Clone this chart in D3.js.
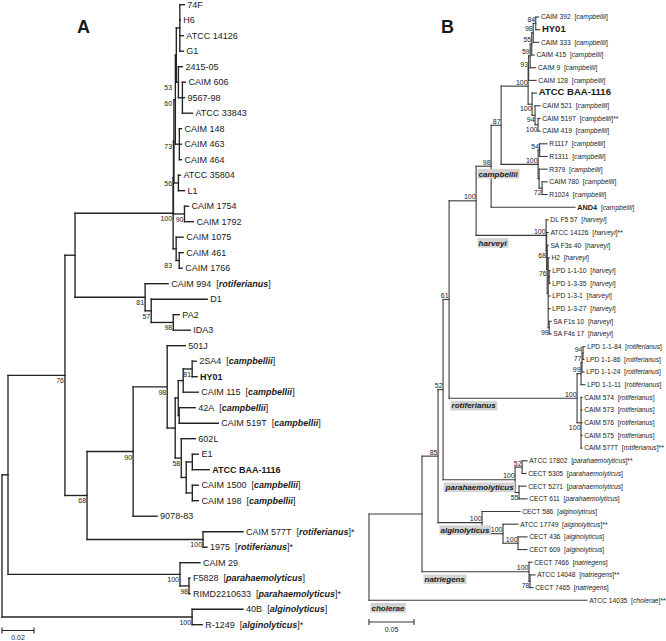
<!DOCTYPE html>
<html><head><meta charset="utf-8">
<script src="https://cdn.jsdelivr.net/npm/d3@7"></script>
<style>
body{margin:0;background:#fff}
svg{display:block}
text{font-family:"Liberation Sans",Arial,Helvetica,sans-serif;fill:#1a1a1a}
</style>
</head><body>
<svg id="c" width="666" height="641"></svg>
<script>
// ---------------- DATA ----------------
// Panel A tree (Newick, branch lengths in substitutions/site, internal labels = bootstrap)
const treeA = "((((((((((74F:0.0028,H6:0.0003,'ATCC 14126':0.0022,G1:0.0022):0.0022," +
  "('2415-05':0.0025,('CAIM 606':0.0019,'9567-98':0.0013,'ATCC 33843':0.0063)60:0.0025)53:0.0013):0.0006," +
  "('CAIM 148':0.0013,'CAIM 463':0.0013,'CAIM 464':0.0013):0.0025):0.0009," +
  "('ATCC 35804':0.0013,L1:0.0038):0.0028)73:0.0003," +
  "('CAIM 1754':0.0025,'CAIM 1792':0.0056)90:0.0069)56:0.0002," +
  "('CAIM 1075':0.0044,('CAIM 461':0.0025,'CAIM 1766':0.0019)83:0.0019):0.0019)100:0.0613," +
  "('CAIM 994':0.0144,(D1:0.035,(PA2:0.0038,IDA3:0.0106)98:0.0138)57:0.0038)81:0.0438):0.0063," +
  "((('501J':0.0113,(((('2SA4':0.0025,HY01:0.0031)81:0.0056,'CAIM 115':0.0094):0.0031,('42A':0.01,'CAIM 519T':0.0244):0.0006):0.0019," +
  "('602L':0.0088,((E1:0.0038,'ATCC BAA-1116':0.0106):0.0038,('CAIM 1500':0.0038,'CAIM 198':0.0038):0.0038):0.0031)58:0.0038):0.005)98:0.0213," +
  "'9078-83':0.015)90:0.0288,('CAIM 577T':0.025,'1975':0.0025)100:0.0725)68:0.0138)76:0.0356," +
  "('CAIM 29':0.0125,(F5828:0.0006,RIMD2210633:0.0006)98:0.0056)100:0.1075):0.00375," +
  "('40B':0.0319,'R-1249':0.0063)100:0.1188);";

// Panel B tree
const treeB = "(((((((((((((('CAIM 392':0.0033,HY01:0.0044)84:0.0028,'CAIM 333':0.0061)98:0.0017,'CAIM 415':0.0028)55:0.0017," +
  "'CAIM 9':0.0061)59:0.0017,'CAIM 128':0.0083)93:0.0006," +
  "('ATCC BAA-1116':0.005,('CAIM 521':0.0056,('CAIM 519T':0.0022,'CAIM 419':0.0022)100:0.0033)94:0.0033)100:0.0044)100:0.03," +
  "((R1117:0.0083,R1311:0.0083)54:0.0017,(R379:0.0089,('CAIM 780':0.0056,R1024:0.0056)72:0.0033):0.0011)100:0.0411)87:0.0111," +
  "AND4:0.0933)98:0.0167," +
  "('DL F5 57':0.0022,('ATCC 14126':0.0017,('SA F3s 40':0.0011,(H2:0.0011,('LPD 1-1-10':0.0011,'LPD 1-3-35':0.0011):0.0011," +
  "'LPD 1-3-1':0.0022,'LPD 1-3-27':0.0022,('SA F1s 10':0.0022,'SA F4s 17':0.0022)99:0.0011):0.0011)76:0.0006)68:0.0006)100:0.0778)100:0.03," +
  "(((('LPD 1-1-84':0.0022,'LPD 1-1-86':0.0011)94:0.0011,'LPD 1-1-24':0.0022)77:0.0011,'LPD 1-1-11':0.0044)99:0.0044," +
  "('CAIM 574':0.0011,'CAIM 573':0.0011,'CAIM 576':0.0011,'CAIM 575':0.0011,'CAIM 577T':0.0011)100:0.0044)100:0.1422)61:0.0067," +
  "(('ATCC 17802':0.0056,'CECT 5305':0.0044)52:0.0078,('CECT 5271':0.0078,'CECT 611':0.0089)55:0.0044)100:0.08)52:0.0056," +
  "('CECT 586':0.0422,('ATCC 17749':0.0167,('CECT 436':0.01,'CECT 609':0.01)100:0.0167)100:0.0233)100:0.0489)85:0.0178," +
  "('CECT 7466':0.0033,('ATCC 14048':0.0056,'CECT 7465':0.0033)78:0.0011)100:0.1189):0.0589," +
  "'ATCC 14035':0.2422);";

// Panel A species annotations [strain, species, mark]
const speciesA = [
  ["CAIM 994","rotiferianus",""],
  ["2SA4","campbellii",""],
  ["CAIM 115","campbellii",""],
  ["42A","campbellii",""],
  ["CAIM 519T","campbellii",""],
  ["CAIM 1500","campbellii",""],
  ["CAIM 198","campbellii",""],
  ["CAIM 577T","rotiferianus","*"],
  ["1975","rotiferianus","*"],
  ["F5828","parahaemolyticus",""],
  ["RIMD2210633","parahaemolyticus","*"],
  ["40B","alginolyticus",""],
  ["R-1249","alginolyticus","*"]
];
const genomesA = ["HY01","ATCC BAA-1116"];

// Panel B species groups
const campbelliiB = ["CAIM 392","CAIM 333","CAIM 415","CAIM 9","CAIM 128","CAIM 521","CAIM 519T","CAIM 419","R1117","R1311","R379","CAIM 780","R1024","AND4"];
const harveyiB = ["DL F5 57","ATCC 14126","SA F3s 40","H2","LPD 1-1-10","LPD 1-3-35","LPD 1-3-1","LPD 1-3-27","SA F1s 10","SA F4s 17"];
const rotiferianusB = ["LPD 1-1-84","LPD 1-1-86","LPD 1-1-24","LPD 1-1-11","CAIM 574","CAIM 573","CAIM 576","CAIM 575","CAIM 577T"];
const parahaemolyticusB = ["ATCC 17802","CECT 5305","CECT 5271","CECT 611"];
const alginolyticusB = ["CECT 586","ATCC 17749","CECT 436","CECT 609"];
const natriegensB = ["CECT 7466","ATCC 14048","CECT 7465"];
const choleraeB = ["ATCC 14035"];
const groupsB = [["campbellii",campbelliiB],["harveyi",harveyiB],["rotiferianus",rotiferianusB],
  ["parahaemolyticus",parahaemolyticusB],["alginolyticus",alginolyticusB],["natriegens",natriegensB],["cholerae",choleraeB]];
const typeStrainsB = ["CAIM 519T","ATCC 14126","CAIM 577T","ATCC 17802","ATCC 17749","ATCC 14048","ATCC 14035"];
const genomesB = ["HY01","ATCC BAA-1116","AND4"];

const scaleBarA = 0.02, scaleBarB = 0.05;
const titles = ["A","B"];

// ---------------- HELPERS ----------------
function parseNewick(str){
  let i = 0;
  const ws = () => { while (i < str.length && /\s/.test(str[i])) i++; };
  function readName(){
    ws();
    if (str[i] === "'") { const j = str.indexOf("'", i+1); const n = str.slice(i+1, j); i = j+1; return n; }
    let j = i; while (j < str.length && !",():;".includes(str[j])) j++;
    const n = str.slice(i, j).trim(); i = j; return n;
  }
  function node(){
    ws();
    const nd = {name:"", len:0};
    if (str[i] === "(") {
      i++; nd.children = [];
      while (true) { nd.children.push(node()); ws(); if (str[i] === ",") { i++; continue; } if (str[i] === ")") { i++; break; } }
    }
    nd.name = readName(); ws();
    if (str[i] === ":") { i++; let j = i; while (j < str.length && !",();".includes(str[j])) j++; nd.len = +str.slice(i, j); i = j; }
    return nd;
  }
  return node();
}

function layout(str, y0, step){
  const root = d3.hierarchy(parseNewick(str));
  root.each(d => { d.dist = d.parent ? d.parent.dist + d.data.len : 0; });
  const leaves = root.leaves();
  const y = d3.scaleLinear().domain([0, leaves.length-1]).range([y0, y0 + step*(leaves.length-1)]);
  leaves.forEach((l,k) => l.yv = y(k));
  // internal node sits at the mean of its children
  root.eachAfter(d => { if (d.children) d.yv = d3.mean(d.children, c => c.yv); });
  return root;
}

function drawBranches(g, root, x, color, width){
  const nodes = root.descendants();
  g.append("g").selectAll("path").data(nodes.filter(d => d.parent)).join("path")
    .attr("d", d => `M${x(d.parent.dist)},${d.yv}H${x(d.dist)}`)
    .attr("fill","none").attr("stroke",color).attr("stroke-width",width).attr("stroke-linecap","square");
  g.append("g").selectAll("path").data(nodes.filter(d => d.children)).join("path")
    .attr("d", d => `M${x(d.dist)},${d.children[0].yv}V${d.children[d.children.length-1].yv}`)
    .attr("fill","none").attr("stroke",color).attr("stroke-width",width).attr("stroke-linecap","square");
}

function scaleBar(g, x, val, y, color){
  const x0 = x(0), x1 = x(val);
  g.append("path").attr("d", `M${x0},${y}H${x1}M${x0},${y-3}V${y+3}M${x1},${y-3}V${y+3}`)
    .attr("stroke",color).attr("stroke-width",1.1).attr("fill","none");
  g.append("text").attr("x",(x0+x1)/2).attr("y",y+9.5).attr("text-anchor","middle")
    .attr("font-size",7).text(val.toFixed(2));
}

const svg = d3.select("#c");

// ---------------- PANEL A ----------------
{
  const root = layout(treeA, 4.7, 15.5);
  const x = d3.scaleLinear().domain([0, 0.1]).range([2, 162]);
  const g = svg.append("g");
  drawBranches(g, root, x, "#222", 1.35);
  const sp = new Map(speciesA.map(d => [d[0], d]));
  const lab = g.append("g").attr("font-size", 9);
  root.leaves().forEach(d => {
    const t = lab.append("text").attr("x", x(d.dist) + 3).attr("y", d.yv).attr("dy","0.35em");
    const name = d.data.name;
    if (genomesA.includes(name)) { t.append("tspan").attr("font-weight","bold").text(name); return; }
    t.append("tspan").text(name);
    const s = sp.get(name);
    if (s) {
      t.append("tspan").text("\u00a0\u00a0[");
      t.append("tspan").attr("font-weight","bold").attr("font-style","italic").text(s[1]);
      t.append("tspan").text("]" + s[2]);
    }
  });
  // bootstrap labels (below the branch, left of the node)
  const bs = g.append("g").attr("font-size", 7).attr("text-anchor","end");
  root.descendants().filter(d => d.children && d.data.name).forEach(d => {
    let a = d;
    while (a.parent && x(a.dist) - x(a.parent.dist) < 6) a = a.parent;
    bs.append("text").attr("x", x(a.dist) - 1).attr("y", d.yv + 8).attr("fill","#333").text(d.data.name);
  });
  scaleBar(g, x, scaleBarA, 630.5, "#222");
  g.append("text").attr("x",77).attr("y",33).attr("font-size",18).attr("font-weight","bold").text(titles[0]);
}

// ---------------- PANEL B ----------------
{
  const root = layout(treeB, 17, 12.68);
  const x = d3.scaleLinear().domain([0, 0.1]).range([369, 459]);
  const g = svg.append("g");
  drawBranches(g, root, x, "#3a3a3a", 1.1);
  const spOf = new Map();
  groupsB.forEach(([s, list]) => list.forEach(n => spOf.set(n, s)));
  const lab = g.append("g").attr("font-size", 6.7);
  root.leaves().forEach(d => {
    const name = d.data.name;
    const s = spOf.get(name);
    const t = lab.append("text").attr("x", x(d.dist) + 2.2).attr("y", d.yv).attr("dy","0.35em");
    if (genomesB.includes(name)) {
      t.append("tspan").attr("font-weight","bold").attr("font-size", s ? 7.3 : 9.5).text(name);
    } else t.append("tspan").text(name);
    if (s) {
      t.append("tspan").text("\u00a0\u00a0[");
      t.append("tspan").attr("font-style","italic").text(s);
      t.append("tspan").text("]" + (typeStrainsB.includes(name) ? "**" : ""));
    }
  });
  // bootstrap labels
  const bs = g.append("g").attr("font-size", 7).attr("text-anchor","end");
  root.descendants().filter(d => d.children && d.data.name).forEach(d => {
    const first = d.parent && d.parent.children[0] === d;
    const short = d.parent && (x(d.dist) - x(d.parent.dist) < 6);
    const below = !first && short;
    bs.append("text").attr("x", x(d.dist) - 0.5).attr("y", below ? d.yv + 7 : d.yv - 1.5)
      .attr("fill","#222").text(d.data.name);
  });
  // clade labels
  const leafBy = new Map(root.leaves().map(l => [l.data.name, l]));
  const cl = g.append("g");
  groupsB.forEach(([s, list]) => {
    const ls = list.map(n => leafBy.get(n));
    let node = ls[0];
    while (!ls.every(l => l.ancestors().includes(node))) node = node.parent;
    const tx = x(node.parent.dist) + 2.5, ty = node.yv + 7.5;
    const t = cl.append("text").attr("x", tx).attr("y", ty).attr("dy","0.35em")
      .attr("font-size", 8).attr("font-weight","bold").attr("font-style","italic").text(s);
    const bb = t.node().getBBox();
    cl.insert("rect", "text").attr("x", bb.x - 1).attr("y", ty - 4.8).attr("width", bb.width + 2).attr("height", 9.6)
      .attr("fill", "#d3d3d3");
  });
  scaleBar(g, x, scaleBarB, 622, "#333");
  g.append("text").attr("x",441).attr("y",33).attr("font-size",18).attr("font-weight","bold").text(titles[1]);
}
</script>
</body></html>
